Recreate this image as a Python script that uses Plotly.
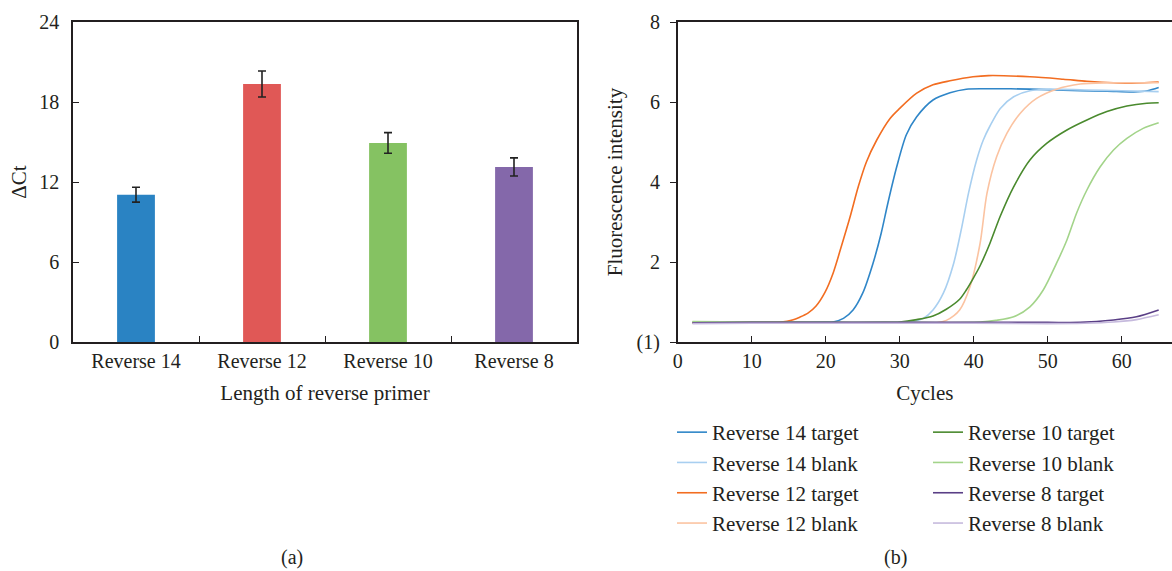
import plotly.graph_objects as go

# ---------------- Panel (a): bar chart data ----------------
primers = ["Reverse 14", "Reverse 12", "Reverse 10", "Reverse 8"]
delta_ct = [11.05, 19.35, 14.93, 13.13]
delta_ct_err = [0.56, 0.98, 0.77, 0.68]
bar_colors = ["#2a83c3", "#e05856", "#85c262", "#8468aa"]

# ---------------- Panel (b): amplification curves ----------------
r14_target_x = [2, 10, 20, 21, 22.4, 23.7, 25.0, 26.4, 27.5, 28.4, 29.6, 30.9, 32.3, 34.5, 36.8, 39.0, 42, 45, 50, 54.4, 58, 61.6, 63.5, 65]
r14_target_y = [0.48, 0.49, 0.49, 0.50, 0.59, 0.80, 1.22, 1.97, 2.72, 3.47, 4.38, 5.18, 5.63, 6.05, 6.23, 6.32, 6.33, 6.33, 6.31, 6.28, 6.27, 6.25, 6.28, 6.36]

r14_blank_x = [2, 10, 20, 30, 32, 33.2, 34.5, 35.9, 37.3, 38.4, 39.3, 40.4, 41.3, 42.2, 43.6, 45.4, 47.6, 49.9, 55, 60, 65]
r14_blank_y = [0.47, 0.48, 0.48, 0.49, 0.52, 0.59, 0.80, 1.22, 1.97, 2.88, 3.72, 4.55, 5.05, 5.40, 5.84, 6.13, 6.28, 6.32, 6.30, 6.28, 6.26]

r12_target_x = [2, 5, 10, 14, 15.5, 16.5, 17.6, 18.7, 19.9, 21.0, 22.1, 23.3, 24.4, 25.5, 26.9, 28.7, 30.0, 32.3, 34.5, 36.8, 39.9, 42.0, 47.6, 52.1, 55.3, 58.9, 61.1, 65]
r12_target_y = [0.48, 0.49, 0.49, 0.50, 0.55, 0.62, 0.72, 0.90, 1.24, 1.72, 2.38, 3.13, 3.88, 4.50, 5.05, 5.59, 5.84, 6.22, 6.43, 6.53, 6.63, 6.66, 6.63, 6.57, 6.52, 6.48, 6.47, 6.50]

r12_blank_x = [2, 10, 20, 30, 35, 36.3, 38.1, 39.5, 40.85, 41.8, 43.1, 44.5, 46.3, 48.5, 51.2, 54.4, 58.0, 62, 65]
r12_blank_y = [0.47, 0.48, 0.48, 0.48, 0.48, 0.54, 0.80, 1.38, 2.45, 3.72, 4.63, 5.22, 5.72, 6.09, 6.32, 6.45, 6.48, 6.48, 6.48]

r10_target_x = [2, 10, 20, 28, 30, 32.3, 34.5, 36.3, 38.1, 39.0, 39.9, 40.85, 42.2, 43.6, 45.4, 47.6, 49.9, 52.6, 55.3, 58.0, 60.7, 63.4, 65]
r10_target_y = [0.50, 0.49, 0.49, 0.49, 0.50, 0.56, 0.65, 0.82, 1.07, 1.30, 1.58, 1.90, 2.47, 3.15, 3.88, 4.55, 4.97, 5.30, 5.55, 5.76, 5.90, 5.97, 5.98]

r10_blank_x = [2, 10, 20, 30, 40.85, 43, 45.4, 47.6, 49.4, 51.2, 52.6, 53.9, 55.3, 57.1, 58.9, 60.7, 62.9, 65]
r10_blank_y = [0.51, 0.50, 0.49, 0.49, 0.50, 0.54, 0.63, 0.88, 1.30, 1.97, 2.55, 3.22, 3.80, 4.38, 4.80, 5.09, 5.34, 5.48]

r8_target_x = [2, 10, 20, 30, 40, 50, 54.4, 58.9, 62.0, 65]
r8_target_y = [0.48, 0.49, 0.49, 0.49, 0.49, 0.49, 0.49, 0.55, 0.63, 0.80]

r8_blank_x = [2, 10, 20, 30, 40, 50, 55, 58.9, 62.0, 65]
r8_blank_y = [0.46, 0.47, 0.47, 0.47, 0.47, 0.46, 0.47, 0.50, 0.56, 0.68]

curve_names = ["Reverse 14 target", "Reverse 14 blank", "Reverse 12 target", "Reverse 12 blank",
               "Reverse 10 target", "Reverse 10 blank", "Reverse 8 target", "Reverse 8 blank"]
curve_xs = [r14_target_x, r14_blank_x, r12_target_x, r12_blank_x,
            r10_target_x, r10_blank_x, r8_target_x, r8_blank_x]
curve_ys = [r14_target_y, r14_blank_y, r12_target_y, r12_blank_y,
            r10_target_y, r10_blank_y, r8_target_y, r8_blank_y]
curve_colors = ["#2f86c8", "#a8cff0", "#f26d21", "#fbc3a1",
                "#4a8a2e", "#a3d48a", "#5a3f86", "#c6badd"]

cycle_ticks = [0, 10, 20, 30, 40, 50, 60]
fluor_tickvals = [0, 2, 4, 6, 8]
fluor_ticktext = ["(1)", "2", "4", "6", "8"]

FONT = "Liberation Serif"
AX = "#231f20"
W, H = 1172, 571

fig = go.Figure()

fig.add_trace(go.Bar(
    x=primers, y=delta_ct, marker=dict(color=bar_colors, line=dict(width=0)),
    width=0.3,
    error_y=dict(type="data", array=delta_ct_err, color="#222222", thickness=1.6, width=4),
    showlegend=False, xaxis="x", yaxis="y",
))

for i, (nm, xs, ys, col) in enumerate(zip(curve_names, curve_xs, curve_ys, curve_colors)):
    fig.add_trace(go.Scatter(
        x=xs, y=ys, mode="lines", name=nm,
        line=dict(color=col, width=1.6, shape="spline", smoothing=0.8),
        xaxis="x2", yaxis="y2",
        legend="legend" if i < 4 else "legend2",
    ))

ydom = [1 - 342 / H, 1 - 22 / H]

common_axis = dict(showline=True, linecolor=AX, linewidth=1.5, showgrid=False, zeroline=False,
                   tickcolor=AX, tickwidth=1.3, automargin=False,
                   tickfont=dict(family=FONT, size=20, color="#231f20"))

legend_common = dict(font=dict(family=FONT, size=21, color="#231f20"), bgcolor="rgba(0,0,0,0)",
                     tracegroupgap=0, yanchor="top", xanchor="left", xref="paper", yref="paper",
                     itemwidth=30)

fig.update_layout(
    width=W, height=H,
    margin=dict(l=0, r=0, t=0, b=0, autoexpand=False),
    paper_bgcolor="white", plot_bgcolor="white",
    font=dict(family=FONT, size=20, color="#231f20"),
    xaxis=dict(domain=[73 / W, 577 / W], anchor="y", type="category", mirror=True,
               ticks="inside", tickson="boundaries", ticklen=6,
               title=dict(text="Length of reverse primer", font=dict(family=FONT, size=21), standoff=15),
               **common_axis),
    yaxis=dict(domain=ydom, anchor="x", range=[0, 24], tickvals=[0, 6, 12, 18, 24], mirror=True,
               ticks="inside", ticklen=6, ticklabelstandoff=8,
               title=dict(text="ΔCt", font=dict(family=FONT, size=21), standoff=7),
               **common_axis),
    xaxis2=dict(domain=[677.7 / W, 1.0], anchor="y2", range=[0, 66.8], tickvals=cycle_ticks, mirror=True,
                ticks="inside", ticklen=6,
                title=dict(text="Cycles", font=dict(family=FONT, size=21), standoff=15),
                **common_axis),
    yaxis2=dict(domain=ydom, anchor="x2", range=[0, 8], tickvals=fluor_tickvals, ticktext=fluor_ticktext,
                ticks="outside", ticklen=6, ticklabelstandoff=6,
                title=dict(text="Fluorescence intensity", font=dict(family=FONT, size=21), standoff=8),
                **common_axis),
    legend=dict(x=672 / W, y=1 - 412 / H, **legend_common),
    legend2=dict(x=928 / W, y=1 - 412 / H, **legend_common),
    annotations=[
        dict(text="(a)", x=292 / W, y=1 - 557 / H, xref="paper", yref="paper", showarrow=False,
             yanchor="middle", xanchor="center", font=dict(family=FONT, size=20)),
        dict(text="(b)", x=895 / W, y=1 - 557 / H, xref="paper", yref="paper", showarrow=False,
             yanchor="middle", xanchor="center", font=dict(family=FONT, size=20)),
    ],
)

fig.write_html("out.html")
